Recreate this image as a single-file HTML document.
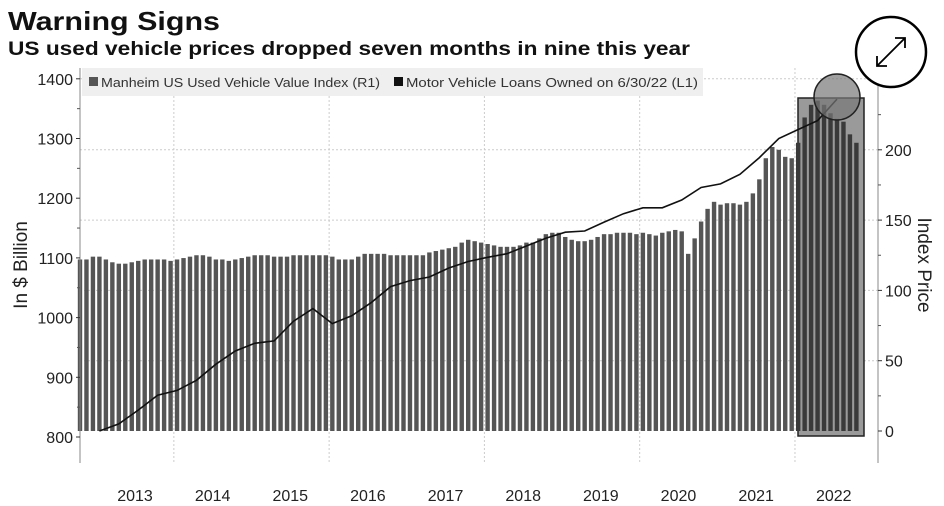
<!DOCTYPE html>
<html><head><meta charset="utf-8"><style>
html,body{margin:0;padding:0;background:#fff;}
svg{display:block;font-family:"Liberation Sans",sans-serif;}
</style></head><body>
<svg id="c" width="944" height="506" viewBox="0 0 944 506">
<text x="8" y="30" font-size="26" font-weight="bold" textLength="212" lengthAdjust="spacingAndGlyphs" fill="#111">Warning Signs</text>
<text x="8" y="55" font-size="19" font-weight="bold" textLength="682" lengthAdjust="spacingAndGlyphs" fill="#111">US used vehicle prices dropped seven months in nine this year</text>
<g id="grid"></g>
<rect x="798" y="98" width="66" height="338" fill="#9a9a9a" stroke="#222" stroke-width="1.5"/>
<g id="bars"></g>
<g id="line"></g>
<g id="axes"></g>
<rect x="82" y="68" width="621" height="28" fill="#efefef"/>
<rect x="89" y="77" width="9" height="9" fill="#555"/>
<text x="101" y="87" font-size="13" fill="#333" textLength="279" lengthAdjust="spacingAndGlyphs">Manheim US Used Vehicle Value Index (R1)</text>
<rect x="394" y="77" width="9" height="9" fill="#111"/>
<text x="406" y="87" font-size="13" fill="#333" textLength="292" lengthAdjust="spacingAndGlyphs">Motor Vehicle Loans Owned on 6/30/22 (L1)</text>
<circle cx="837" cy="97" r="23" fill="rgba(120,120,120,0.7)" stroke="#222" stroke-width="1.5"/>
<g>
<circle cx="891" cy="52" r="35" fill="#fff" stroke="#000" stroke-width="2.5"/>
<path d="M877 66 L905 38 M895 38 L905 38 L905 48 M877 56 L877 66 L887 66" fill="none" stroke="#000" stroke-width="1.8"/>
</g>
<text transform="translate(27,265) rotate(-90)" text-anchor="middle" font-size="19" fill="#222">In $ Billion</text>
<text transform="translate(918,265) rotate(90)" text-anchor="middle" font-size="19" fill="#222">Index Price</text>
</svg>
<script>
const indexValues=[122,122,124,
124,122,120,119,119,120,121,122,122,122,122,121,
122,123,124,125,125,124,122,122,121,122,123,124,
125,125,125,124,124,124,125,125,125,125,125,125,
124,122,122,122,124,126,126,126,126,125,125,125,
125,125,125,127,128,129,130,131,134,136,135,134,
133,132,131,131,131,132,134,134,137,140,141,141,
138,136,135,135,136,138,140,140,141,141,141,140,
141,140,139,141,142,143,142,126,137,149,158,163,
161,162,162,161,163,169,179,194,202,200,195,194,
205,223,232,235,232,226,222,220,211,205];
const loanValues=[810,822,845,870,878,895,922,944,957,961,994,1015,990,1003,1025,1052,1062,1068,1083,1094,1101,1107,1120,1133,1143,1145,1160,1174,1184,1184,1197,1218,1224,1240,1268,1300,1315,1330,1366];
const yearLabels=["2013","2014","2015","2016","2017","2018","2019","2020","2021","2022"];
const leftTicks=[800,900,1000,1100,1200,1300,1400];
const rightTicks=[0,50,100,150,200];
const NS="http://www.w3.org/2000/svg";
const xM=i=>80+i*6.47;
const yL=v=>437-(v-800)*0.597;
const yR=v=>431-v*1.406;
function mk(t,a,p){const e=document.createElementNS(NS,t);for(const k in a)e.setAttribute(k,a[k]);p.appendChild(e);return e;}
const grid=document.getElementById('grid'),bars=document.getElementById('bars'),line=document.getElementById('line'),axes=document.getElementById('axes');
rightTicks.filter(v=>v>0).forEach(v=>{const g=mk('line',{x1:80,x2:878,y1:yR(v),y2:yR(v),stroke:'#ccc','stroke-dasharray':'2,2'},grid);

});
{const g=mk('line',{x1:80,x2:878,y1:yL(1400),y2:yL(1400),stroke:'#ccc','stroke-dasharray':'2,2'},grid);

}
for(let y=1;y<10;y+=2){const x=xM(3+y*12)-3.2;const g=mk('line',{x1:x,x2:x,y1:68,y2:462,stroke:'#ccc','stroke-dasharray':'2,2'},grid);

}
indexValues.forEach((v,i)=>{const b=mk('rect',{x:xM(i)-2.2,y:yR(v),width:4.4,height:yR(0)-yR(v),fill:i>=111?'#3a3a3a':'#555'},bars);

});
const pts=loanValues.map((v,k)=>xM(3+3*k).toFixed(1)+','+yL(v).toFixed(1)).join(' ');
const pl=mk('polyline',{points:pts,fill:'none',stroke:'#111','stroke-width':1.6},line);


mk('line',{x1:80,x2:80,y1:68,y2:463,stroke:'#888'},axes);
mk('line',{x1:878,x2:878,y1:68,y2:463,stroke:'#888'},axes);
leftTicks.forEach(v=>{mk('line',{x1:76,x2:80,y1:yL(v),y2:yL(v),stroke:'#333'},axes);
const t=mk('text',{x:73,y:yL(v)+6,'text-anchor':'end','font-size':16,fill:'#222'},axes);t.textContent=v;


if(v<1400)mk('line',{x1:77,x2:80,y1:yL(v+50),y2:yL(v+50),stroke:'#555'},axes);});
rightTicks.forEach(v=>{mk('line',{x1:878,x2:882,y1:yR(v),y2:yR(v),stroke:'#333'},axes);
const t=mk('text',{x:885,y:yR(v)+6,'font-size':16,fill:'#222'},axes);t.textContent=v;


mk('line',{x1:878,x2:881,y1:yR(v+25),y2:yR(v+25),stroke:'#555'},axes);});
yearLabels.forEach((y,k)=>{const t=mk('text',{x:xM(3+12*k+5.5),y:501,'text-anchor':'middle','font-size':16,fill:'#222'},axes);t.textContent=y;

});
</script>
</body></html>
